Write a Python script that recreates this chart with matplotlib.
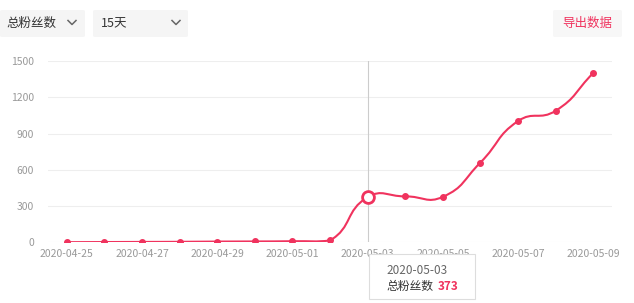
import numpy as np
import matplotlib
matplotlib.use("Agg")
import matplotlib.pyplot as plt
from matplotlib.patches import FancyBboxPatch, Rectangle, PathPatch
from matplotlib.path import Path
from matplotlib.lines import Line2D

plt.rcParams['font.family'] = ['Noto Sans CJK SC', 'DejaVu Sans']

dates = ["2020-04-25", "2020-04-26", "2020-04-27", "2020-04-28", "2020-04-29",
         "2020-04-30", "2020-05-01", "2020-05-02", "2020-05-03", "2020-05-04",
         "2020-05-05", "2020-05-06", "2020-05-07", "2020-05-08", "2020-05-09"]
fans = [1, 2, 3, 4, 6, 7, 9, 15, 373, 380, 376, 660, 1003, 1088, 1400]
yticks = [0, 300, 600, 900, 1200, 1500]
highlight = "2020-05-03"
series_name = "总粉丝数"
metric_label = "总粉丝数"
period_label = "15天"
export_label = "导出数据"

W, H = 634, 303
RED = '#f0335e'
fig = plt.figure(figsize=(W / 100, H / 100), dpi=100)

def fx(px):
    return px / W

def fy(py):
    return 1 - py / H

ax = fig.add_axes([fx(48), fy(242.3), fx(612) - fx(48), fy(61) - fy(242.3)])
x = np.arange(len(dates), dtype=float)
y = np.array(fans, dtype=float)

ax.set_xlim(-0.5, len(dates) - 0.5)
ax.set_ylim(0, 1500)

# ECharts-like smooth bezier, computed in display space
pts = ax.transData.transform(np.column_stack([x, y]))
lo, hi_b = pts.min(axis=0), pts.max(axis=0)
smooth_f = 0.5
n = len(pts)
cps = []
for i in range(n):
    p = pts[i]
    prv = pts[i - 1] if i > 0 else p
    nxt = pts[i + 1] if i < n - 1 else p
    v = (nxt - prv) * smooth_f
    d0 = np.hypot(*(p - prv))
    d1 = np.hypot(*(p - nxt))
    s = d0 + d1
    if s > 0:
        d0 /= s; d1 /= s
    c0 = np.clip(p - v * d0, lo, hi_b)
    c1 = np.clip(p + v * d1, lo, hi_b)
    cps.append((c0, c1))
verts = [pts[0]]
codes = [Path.MOVETO]
for i in range(n - 1):
    verts += [cps[i][1], cps[i + 1][0], pts[i + 1]]
    codes += [Path.CURVE4] * 3
verts = ax.transData.inverted().transform(np.array(verts))
ax.add_patch(PathPatch(Path(verts, codes), fc='none', ec=RED, lw=1.5, zorder=3))

hi = dates.index(highlight)
mask = np.arange(n) != hi
ax.plot(x[mask], y[mask], 'o', color=RED, ms=4, zorder=4)
ax.axvline(hi, color='#cccccc', lw=0.8, zorder=2)
ax.plot([x[hi]], [y[hi]], 'o', ms=8.5, mfc='white', mec=RED, mew=2, zorder=5)

ax.set_yticks(yticks)
ax.set_yticklabels([str(v) for v in yticks])
ax.set_xticks(x[::2])
ax.set_xticklabels(dates[::2])
ax.grid(axis='y', color='#eeeeee', lw=0.8)
ax.set_axisbelow(True)
for s in ax.spines.values():
    s.set_visible(False)
ax.tick_params(length=0, colors='#999999', labelsize=7.5)
ax.tick_params(axis='y', pad=10)
ax.tick_params(axis='x', pad=5)

# top controls
def box(x0, y0, x1, y1, fc):
    fig.patches.append(FancyBboxPatch((fx(x0), fy(y1)), fx(x1) - fx(x0), fy(y0) - fy(y1),
                                      boxstyle="round,pad=0,rounding_size=0.004",
                                      transform=fig.transFigure, fc=fc, ec='none'))

def chevron(cx, cy):
    fig.lines.append(Line2D([fx(cx - 4), fx(cx), fx(cx + 4)], [fy(cy - 2), fy(cy + 2), fy(cy - 2)],
                            transform=fig.transFigure, color='#666666', lw=1.1))

box(0, 10, 85, 37, '#f5f5f5')
fig.text(fx(6), fy(23.5), metric_label, fontsize=9, color='#333333', va='center', ha='left')
chevron(72, 22.5)
box(93, 10, 188, 37, '#f5f5f5')
fig.text(fx(101), fy(23.5), period_label, fontsize=9, color='#333333', va='center', ha='left')
chevron(176, 22.5)
box(553, 10, 622, 37, '#f7f7f7')
fig.text(fx(587.5), fy(23.5), export_label, fontsize=9, color=RED, va='center', ha='center')

# tooltip
fig.patches.append(Rectangle((fx(369), fy(299)), fx(475) - fx(369), fy(254) - fy(299),
                             transform=fig.transFigure, fc='white', ec='#dddddd', lw=0.8, zorder=10))
fig.text(fx(386), fy(270), dates[hi], fontsize=8.5, color='#666666', va='center', ha='left', zorder=11)
fig.text(fx(386), fy(286), series_name, fontsize=8.5, color='#333333', va='center', ha='left', zorder=11)
fig.text(fx(438), fy(286), str(fans[hi]), fontsize=8.5, color=RED, fontweight='bold',
         va='center', ha='left', zorder=11)

fig.savefig('out.png', dpi=100, facecolor='white')
